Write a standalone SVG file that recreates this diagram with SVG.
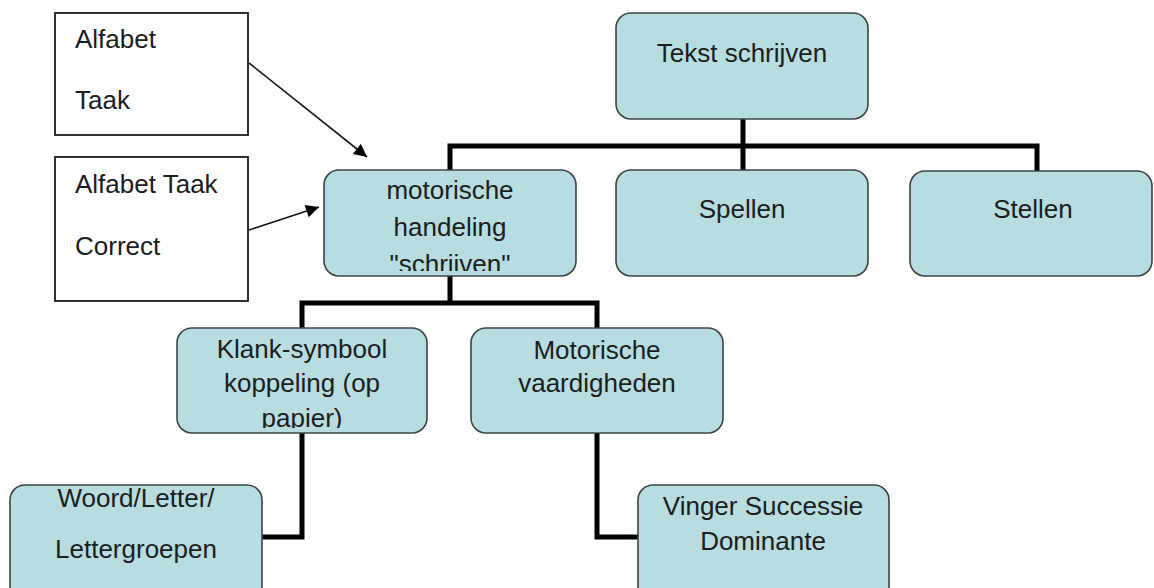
<svg xmlns="http://www.w3.org/2000/svg" width="1154" height="588" viewBox="0 0 1154 588">
<style>
.node{fill:#b8dde1;stroke:#3a4545;stroke-width:1.6}
.note{fill:#ffffff;stroke:#1a1a1a;stroke-width:1.8}
.t{font-family:"Liberation Sans",Arial,sans-serif;font-size:26px;fill:#1a2020}
.c{text-anchor:middle}
.conn{fill:none;stroke:#000;stroke-width:5;stroke-linejoin:miter}
.arr{fill:none;stroke:#1a1a1a;stroke-width:1.6}
</style>
<defs>
<marker id="ah" viewBox="0 0 10 10" refX="10" refY="5" markerWidth="15" markerHeight="13" markerUnits="userSpaceOnUse" orient="auto">
<path d="M0,0 L10,5 L0,10 z" fill="#000"/>
</marker>
<clipPath id="clipMot"><rect x="324" y="170" width="252" height="101"/></clipPath>
<clipPath id="clipKlank"><rect x="177" y="328" width="250" height="100"/></clipPath>
</defs>
<rect width="1154" height="588" fill="#ffffff"/>

<g id="connectors">
<path class="conn" d="M743,119 V146 M450,170 V146 H1037 V171 M743,146 V170"/>
<path class="conn" d="M450,276 V303 M302,328 V303 H597 V328"/>
<path class="conn" d="M302,433 V537 H262"/>
<path class="conn" d="M597,433 V537 H638"/>
<line class="arr" x1="249" y1="63" x2="367" y2="157" marker-end="url(#ah)"/>
<line class="arr" x1="249" y1="230" x2="319" y2="207" marker-end="url(#ah)"/>
</g>

<g id="note-alfabet-taak">
<rect class="note" x="55" y="13" width="193" height="122"/>
<text class="t" x="75" y="48">Alfabet</text>
<text class="t" x="75" y="109">Taak</text>
</g>
<g id="note-alfabet-taak-correct">
<rect class="note" x="55" y="157" width="193" height="144"/>
<text class="t" x="75" y="193">Alfabet Taak</text>
<text class="t" x="75" y="255">Correct</text>
</g>

<g id="node-tekst-schrijven">
<rect class="node" x="616" y="13" width="252" height="106" rx="15"/>
<text class="t c" x="742" y="62">Tekst schrijven</text>
</g>
<g id="node-motorische-handeling">
<rect class="node" x="324" y="170" width="252" height="106" rx="15"/>
<g clip-path="url(#clipMot)">
<text class="t c" x="450" y="199">motorische</text>
<text class="t c" x="450" y="236">handeling</text>
<text class="t c" x="450" y="273">"schrijven"</text>
</g>
</g>
<g id="node-spellen">
<rect class="node" x="616" y="170" width="252" height="106" rx="15"/>
<text class="t c" x="742" y="218">Spellen</text>
</g>
<g id="node-stellen">
<rect class="node" x="910" y="171" width="242" height="105" rx="15"/>
<text class="t c" x="1033" y="218">Stellen</text>
</g>
<g id="node-klank-symbool">
<rect class="node" x="177" y="328" width="250" height="105" rx="15"/>
<g clip-path="url(#clipKlank)">
<text class="t c" x="302" y="358">Klank-symbool</text>
<text class="t c" x="302" y="392">koppeling (op</text>
<text class="t c" x="302" y="427">papier)</text>
</g>
</g>
<g id="node-motorische-vaardigheden">
<rect class="node" x="471" y="328" width="252" height="105" rx="15"/>
<text class="t c" x="597" y="359">Motorische</text>
<text class="t c" x="597" y="392">vaardigheden</text>
</g>
<g id="node-woord-letter">
<rect class="node" x="10" y="485" width="252" height="120" rx="15"/>
<text class="t c" x="136" y="507">Woord/Letter/</text>
<text class="t c" x="136" y="558">Lettergroepen</text>
</g>
<g id="node-vinger">
<rect class="node" x="638" y="485" width="251" height="120" rx="15"/>
<text class="t c" x="763" y="515">Vinger Successie</text>
<text class="t c" x="763" y="550">Dominante</text>
</g>
</svg>
